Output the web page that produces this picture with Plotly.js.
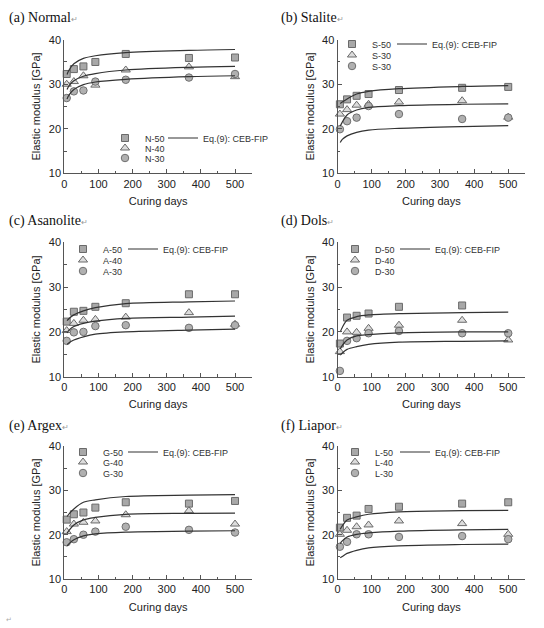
<!DOCTYPE html>
<html>
<head>
<meta charset="utf-8">
<script src="https://cdn.plot.ly/plotly-3.0.1.min.js"></script>
<style>html,body{margin:0;padding:0;background:#fff;}#chart{width:544px;height:628px;}</style>
</head>
<body>
<div id="chart"></div>
<script>
// ---- data ----
const days = [7, 28, 56, 91, 180, 365, 500];
const fitDays = [8, 14, 28, 56, 91, 180, 365, 500];

const panelTitles = ["(a) Normal", "(b) Stalite", "(c) Asanolite", "(d) Dols", "(e) Argex", "(f) Liapor"];
const fitLabel = "Eq.(9): CEB-FIP";

// (a) Normal
const N_names = ["N-50", "N-40", "N-30"];
const N50 = [32.3, 33.4, 34.0, 35.0, 36.8, 35.9, 36.0];
const N40 = [30.0, 30.6, 31.9, 29.8, 33.2, 33.9, 31.7];
const N30 = [26.9, 28.4, 28.6, 30.6, 31.0, 31.5, 32.3];
const N50fit = [32.2, 33.2, 34.6, 35.8, 36.4, 37.1, 37.6, 37.8];
const N40fit = [28.8, 29.7, 30.8, 31.8, 32.4, 33.2, 33.8, 34.0];
const N30fit = [26.7, 27.6, 28.8, 29.9, 30.5, 31.1, 31.7, 31.9];

// (b) Stalite
const S_names = ["S-50", "S-30", "S-30"];
const S50 = [25.5, 26.6, 27.4, 27.8, 28.7, 29.2, 29.4];
const S40 = [23.3, 24.3, 25.3, 25.5, 26.0, 26.3, 22.6];
const S30 = [19.9, 21.7, 22.5, 25.1, 23.3, 22.2, 22.5];
const S50fit = [25.7, 26.0, 26.7, 27.8, 28.4, 29.0, 29.5, 29.7];
const S40fit = [20.6, 21.5, 23.1, 24.2, 24.8, 25.2, 25.5, 25.6];
const S30fit = [16.9, 17.6, 18.4, 19.2, 19.7, 20.1, 20.5, 20.7];

// (c) Asanolite
const A_names = ["A-50", "A-40", "A-30"];
const A50 = [22.3, 24.5, 24.7, 25.6, 26.4, 28.4, 28.4];
const A40 = [20.3, 21.9, 22.6, 22.8, 23.3, 24.3, 21.7];
const A30 = [18.0, 19.9, 20.0, 21.3, 21.5, 20.9, 21.5];
const A50fit = [22.5, 23.0, 23.8, 24.7, 25.4, 26.3, 26.7, 26.9];
const A40fit = [19.8, 20.4, 21.2, 21.9, 22.4, 23.0, 23.3, 23.5];
const A30fit = [17.2, 17.6, 18.2, 18.9, 19.5, 20.0, 20.4, 20.6];

// (d) Dols
const D_names = ["D-50", "D-40", "D-30"];
const D50 = [17.4, 23.2, 23.6, 24.1, 25.6, 25.9, null];
const D40 = [15.6, 20.0, 19.9, 20.8, 21.5, 22.6, 18.2];
const D30 = [11.3, 18.0, 18.6, 19.7, 20.2, 19.7, 19.7];
const D50fit = [20.0, 21.0, 22.6, 23.4, 23.8, 24.1, 24.3, 24.4];
const D40fit = [16.2, 17.0, 18.2, 19.1, 19.4, 19.8, 20.0, 20.0];
const D30fit = [14.8, 15.3, 16.1, 16.7, 17.2, 17.7, 17.9, 18.0];

// (e) Argex
const G_names = ["G-50", "G-40", "G-30"];
const G50 = [23.4, 24.6, 25.0, 26.1, 27.3, 27.0, 27.6];
const G40 = [20.7, 22.4, 22.8, 23.1, 24.5, 25.4, 22.4];
const G30 = [18.3, 19.0, 20.0, 20.7, 21.8, 21.1, 20.5];
const G50fit = [24.1, 24.7, 25.8, 27.3, 27.85, 28.6, 28.9, 29.0];
const G40fit = [20.35, 21.0, 22.2, 23.35, 23.9, 24.6, 24.8, 24.85];
const G30fit = [17.5, 18.0, 18.85, 19.75, 20.2, 20.6, 20.8, 20.9];

// (f) Liapor
const L_names = ["L-50", "L-40", "L-30"];
const L50 = [21.6, 23.8, 24.3, 25.8, 26.3, 27.0, 27.3];
const L40 = [20.1, 21.0, 21.8, 22.2, 23.1, 22.5, 20.1];
const L30 = [17.3, 18.4, 20.1, 20.1, 19.5, 19.7, 19.0];
const L50fit = [21.25, 22.0, 23.3, 24.0, 24.6, 25.15, 25.4, 25.5];
const L40fit = [18.0, 18.6, 19.5, 20.1, 20.4, 20.8, 21.1, 21.2];
const L30fit = [14.8, 15.1, 15.8, 16.5, 17.05, 17.5, 17.8, 17.9];

const xTitle = "Curing days";
const yTitle = "Elastic modulus [GPa]";

// ---- layout geometry (pixels) ----
const W = 544, H = 628;
const colX = [[64.3, 252.1], [337.5, 525.3]];
const rowY = [[39.7, 173.3], [242.3, 376.7], [445.8, 579.2]];
// legend placement: marker-column x, line-legend x, row centres
const legendPos = [
  {mx: 105, lx: 163, rows: [138, 148, 158]},
  {mx: 332, lx: 392, rows: [44, 55, 66]},
  {mx: 63, lx: 123, rows: [249, 260, 271]},
  {mx: 335, lx: 395, rows: [249, 260, 271]},
  {mx: 63, lx: 123, rows: [452, 462, 473]},
  {mx: 335, lx: 395, rows: [452, 462, 473]}
];
const legendTopOffset = 14.5;
const titlePos = [
  {x: 7, y: 18}, {x: 279, y: 18},
  {x: 7, y: 221}, {x: 279, y: 221},
  {x: 7, y: 426}, {x: 279, y: 426}
];

const panels = [
  {names: N_names, series: [N50, N40, N30], fits: [N50fit, N40fit, N30fit]},
  {names: S_names, series: [S50, S40, S30], fits: [S50fit, S40fit, S30fit]},
  {names: A_names, series: [A50, A40, A30], fits: [A50fit, A40fit, A30fit]},
  {names: D_names, series: [D50, D40, D30], fits: [D50fit, D40fit, D30fit]},
  {names: G_names, series: [G50, G40, G30], fits: [G50fit, G40fit, G30fit]},
  {names: L_names, series: [L50, L40, L30], fits: [L50fit, L40fit, L30fit]}
];

const markerStyles = [
  {symbol: 'square', size: 7, color: '#a8a8a8', line: {color: '#6a6a6a', width: 1}},
  {symbol: 'triangle-up', size: 8, color: '#dcdcdc', line: {color: '#6a6a6a', width: 1}},
  {symbol: 'circle', size: 7.5, color: '#b0b0b0', line: {color: '#707070', width: 1}}
];

const traces = [];
const layout = {
  width: W, height: H,
  margin: {l: 0, r: 0, t: 0, b: 0},
  paper_bgcolor: '#fff', plot_bgcolor: '#fff',
  font: {family: 'Liberation Sans, Arial, sans-serif', size: 11, color: '#222'},
  showlegend: true,
  annotations: []
};

function legId(k) { return k === 1 ? 'legend' : 'legend' + k; }

panels.forEach((p, i) => {
  const n = i + 1;
  const col = i % 2, row = Math.floor(i / 2);
  const xk = n === 1 ? 'x' : 'x' + n;
  const yk = n === 1 ? 'y' : 'y' + n;
  const lp = legendPos[i];
  const legCommon = {
    bgcolor: 'rgba(0,0,0,0)', borderwidth: 0, xanchor: 'left', yanchor: 'top',
    font: {size: 9, color: '#333'}, tracegroupgap: 0, traceorder: 'normal'
  };

  p.series.forEach((s, k) => {
    const lid = legId(4 * i + k + 1);
    traces.push({
      type: 'scatter', mode: 'markers', x: days, y: s, name: p.names[k],
      xaxis: xk, yaxis: yk, legend: lid,
      marker: markerStyles[k], cliponaxis: false
    });
    layout[lid] = Object.assign({}, legCommon, {
      x: lp.mx / W, y: 1 - (lp.rows[k] - legendTopOffset) / H
    });
  });
  const lineLeg = legId(4 * i + 4);
  layout[lineLeg] = Object.assign({}, legCommon, {
    x: lp.lx / W, y: 1 - (lp.rows[0] - legendTopOffset) / H
  });
  p.fits.forEach((f, k) => {
    traces.push({
      type: 'scatter', mode: 'lines', x: fitDays, y: f, name: fitLabel,
      xaxis: xk, yaxis: yk, legend: lineLeg, showlegend: k === 0,
      line: {color: '#333', width: 1.2, shape: 'spline', smoothing: 0.9}
    });
  });

  const xd = [colX[col][0] / W, colX[col][1] / W];
  const yd = [1 - rowY[row][1] / H, 1 - rowY[row][0] / H];
  const axCommon = {
    showline: true, linecolor: '#555', linewidth: 1,
    ticks: 'inside', ticklen: 4, tickcolor: '#555', tickwidth: 1,
    showgrid: false, zeroline: false, fixedrange: true,
    tickfont: {size: 11, color: '#222'}
  };
  layout['xaxis' + (n === 1 ? '' : n)] = Object.assign({}, axCommon, {
    domain: xd, anchor: yk, range: [0, 550], dtick: 100, tick0: 0,
    minor: {ticks: 'inside', ticklen: 2.5, dtick: 50, tickcolor: '#555', showgrid: false},
    title: {text: xTitle, font: {size: 11, color: '#222'}, standoff: 8}
  });
  layout['yaxis' + (n === 1 ? '' : n)] = Object.assign({}, axCommon, {
    domain: yd, anchor: xk, range: [10, 40], dtick: 10, tick0: 10,
    minor: {ticks: 'inside', ticklen: 2.5, dtick: 5, tickcolor: '#555', showgrid: false},
    title: {text: yTitle, font: {size: 11, color: '#222'}, standoff: 5}
  });

  const tp = titlePos[i];
  layout.annotations.push({
    xref: 'paper', yref: 'paper', x: tp.x / W, y: 1 - tp.y / H,
    xanchor: 'left', yanchor: 'middle', showarrow: false,
    text: panelTitles[i] + "<span style='font-size:8px;color:#999'>↵</span>",
    font: {family: 'Liberation Serif, Times New Roman, serif', size: 14, color: '#111'}
  });
});

layout.annotations.push({
  xref: 'paper', yref: 'paper', x: 4 / W, y: 1 - 619 / H,
  xanchor: 'left', yanchor: 'middle', showarrow: false,
  text: "↵", font: {size: 7, color: '#aaa'}
});

Plotly.newPlot('chart', traces, layout, {displayModeBar: false, staticPlot: true});
</script>
</body>
</html>
